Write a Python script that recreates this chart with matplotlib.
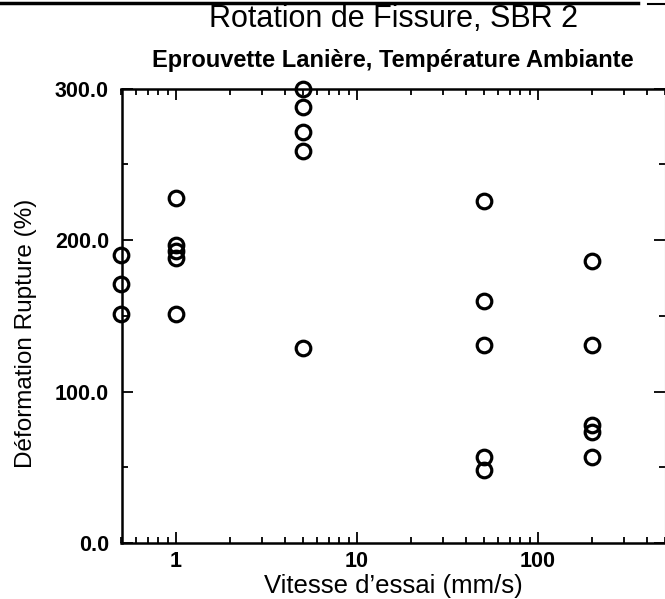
import matplotlib
matplotlib.use("Agg")
import matplotlib.pyplot as plt
from matplotlib.ticker import FixedLocator, FixedFormatter, NullFormatter
from matplotlib.lines import Line2D

plt.rcParams['font.family'] = ['Liberation Sans', 'DejaVu Sans']

# Data
speed_05 = [0.5, 0.5, 0.5]
strain_05 = [190, 171, 151]
speed_1 = [1, 1, 1, 1, 1]
strain_1 = [228, 197, 193, 188, 151]
speed_5 = [5, 5, 5, 5, 5]
strain_5 = [300, 288, 271, 259, 129]
speed_50 = [50, 50, 50, 50, 50]
strain_50 = [226, 160, 131, 57, 48]
speed_200 = [200, 200, 200, 200, 200]
strain_200 = [186, 131, 78, 73, 57]

x_ticks = [1, 10, 100]
x_ticklabels = ["1", "10", "100"]
y_ticks = [0, 100, 200, 300]
y_ticklabels = ["0.0", "100.0", "200.0", "300.0"]

W, H = 665, 599
fig = plt.figure(figsize=(W / 100, H / 100), dpi=100)
left, right, top, bottom = 121.5, 664.5, 88.5, 543
ax = fig.add_axes([left / W, 1 - bottom / H, (right - left) / W, (bottom - top) / H])

xs = speed_05 + speed_1 + speed_5 + speed_50 + speed_200
ys = strain_05 + strain_1 + strain_5 + strain_50 + strain_200
ax.plot(xs, ys, linestyle='none', marker='o', markersize=10.5,
        markerfacecolor='none', markeredgecolor='black', markeredgewidth=2.3,
        clip_on=False, zorder=5)

ax.set_xscale('log')
ax.set_xlim(0.5, 500)
ax.set_ylim(0, 300)

ax.xaxis.set_major_locator(FixedLocator(x_ticks))
ax.xaxis.set_major_formatter(FixedFormatter(x_ticklabels))
ax.xaxis.set_minor_formatter(NullFormatter())
ax.yaxis.set_major_locator(FixedLocator(y_ticks))
ax.yaxis.set_major_formatter(FixedFormatter(y_ticklabels))
ax.yaxis.set_minor_locator(FixedLocator([50, 150, 250]))

ax.tick_params(which='both', direction='in', top=True, right=True, width=1.3, colors='black')
ax.tick_params(which='major', length=8, labelsize=15.5)
ax.tick_params(axis='y', which='major', pad=9)
ax.tick_params(axis='x', which='major', pad=6)
ax.tick_params(which='minor', length=4)
for lab in ax.get_xticklabels() + ax.get_yticklabels():
    lab.set_fontweight('bold')

for s in ['left', 'bottom', 'top']:
    ax.spines[s].set_linewidth(1.8)
ax.spines['right'].set_linewidth(0.8)
ax.spines['right'].set_color('#999999')

ax.set_xlabel("Vitesse d’essai (mm/s)", fontsize=18.5)
ax.xaxis.set_label_coords(0.5, -(586 - bottom) / (bottom - top))
ax.set_ylabel("Déformation Rupture (%)", fontsize=17.5)
ax.yaxis.set_label_coords(-(left - 26) / (right - left), (bottom - 333) / (bottom - top))
ax.xaxis.label.set_va('center')
ax.yaxis.label.set_va('center')

cx = (left + right) / 2 / W
fig.text(cx, 1 - 19 / H, "Rotation de Fissure, SBR 2", ha='center', va='center', fontsize=22)
fig.text(cx, 1 - 60 / H, "Eprouvette Lanière, Température Ambiante", ha='center', va='center',
         fontsize=17, fontweight='bold')

# top border line from scan
fig.add_artist(Line2D([0, 0.96], [1 - 3 / H, 1 - 3 / H], transform=fig.transFigure,
                      color='black', linewidth=2.5))
fig.add_artist(Line2D([0.975, 1.0], [1 - 4 / H, 1 - 4 / H], transform=fig.transFigure,
                      color='black', linewidth=1.5))

fig.savefig("out.png", dpi=100)
